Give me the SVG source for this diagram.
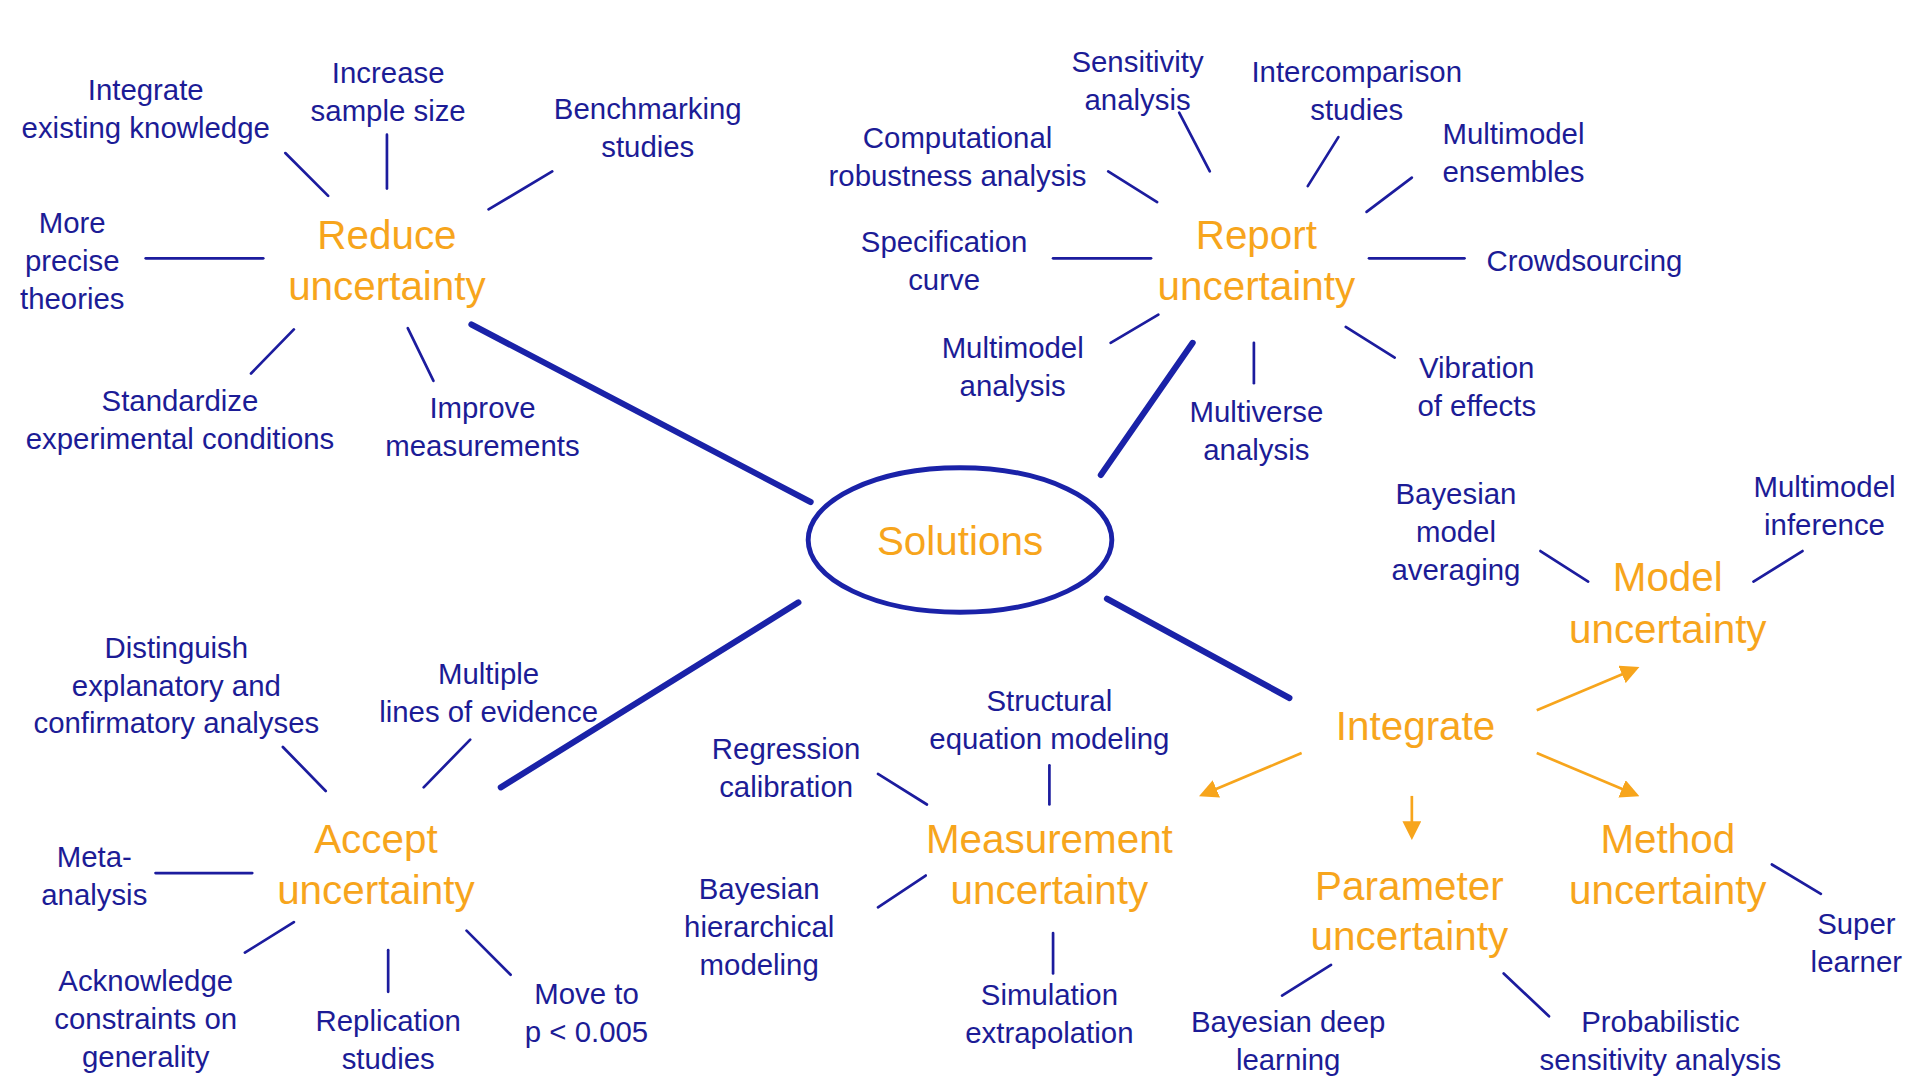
<svg xmlns="http://www.w3.org/2000/svg" width="1920" height="1080" viewBox="0 0 1920 1080">
<defs>
<style>
text{font-family:"Liberation Sans",Arial,sans-serif;text-anchor:middle}
.s{font-size:24px;fill:#1c1c96}
.o{font-size:33px;fill:#f7a51c}
.l line{stroke:#1c1c9e;stroke-width:2.2;stroke-linecap:round}
.t line{stroke:#1a22a8;stroke-width:5;stroke-linecap:round}
.a line{stroke:#f7a51c;stroke-width:2.2;marker-end:url(#ah)}
</style>
<marker id="ah" viewBox="0 0 10 10" refX="8" refY="5" markerWidth="7" markerHeight="7" orient="auto"><path d="M0,0L10,5L0,10z" fill="#f7a51c"/></marker>
</defs>
<rect width="1920" height="1080" fill="#fff"/>
<g transform="scale(1.2245)">
<g id="connectors">
<g class="l">
<line x1="233" y1="125" x2="268" y2="160"/><line x1="316" y1="110" x2="316" y2="154"/><line x1="451" y1="140" x2="399" y2="171"/><line x1="119" y1="211" x2="215" y2="211"/><line x1="240" y1="269" x2="205" y2="305"/><line x1="333" y1="268" x2="354" y2="311"/>
<line x1="963" y1="92" x2="988" y2="140"/><line x1="1093" y1="112" x2="1068" y2="152"/><line x1="905" y1="140" x2="945" y2="165"/><line x1="1153" y1="145" x2="1116" y2="173"/><line x1="860" y1="211" x2="940" y2="211"/><line x1="1118" y1="211" x2="1196" y2="211"/><line x1="907" y1="280" x2="946" y2="257"/><line x1="1024" y1="280" x2="1024" y2="313"/><line x1="1099" y1="267" x2="1139" y2="292"/>
<line x1="1258" y1="450" x2="1297" y2="475"/><line x1="1472" y1="450" x2="1432" y2="475"/>
<line x1="717" y1="632" x2="757" y2="657"/><line x1="857" y1="625" x2="857" y2="657"/><line x1="717" y1="741" x2="756" y2="715"/><line x1="860" y1="762" x2="860" y2="795"/>
<line x1="1087" y1="788" x2="1047" y2="813"/><line x1="1228" y1="795" x2="1265" y2="830"/>
<line x1="1447" y1="706" x2="1487" y2="730"/>
<line x1="231" y1="610" x2="266" y2="646"/><line x1="384" y1="604" x2="346" y2="643"/><line x1="127" y1="713" x2="206" y2="713"/><line x1="240" y1="753" x2="200" y2="778"/><line x1="317" y1="776" x2="317" y2="810"/><line x1="381" y1="760" x2="417" y2="796"/>
</g>
<g class="t">
<line x1="385" y1="265" x2="662" y2="410"/><line x1="974" y1="280" x2="899" y2="388"/><line x1="652" y1="492" x2="409" y2="643"/><line x1="904" y1="489" x2="1053" y2="570"/>
</g>
<g class="a">
<line x1="1063" y1="615" x2="982" y2="649"/><line x1="1255" y1="580" x2="1336" y2="546"/><line x1="1153" y1="650" x2="1153" y2="683"/><line x1="1255" y1="615" x2="1336" y2="649"/>
</g>
</g>
<g id="solutions"><ellipse cx="784" cy="441" rx="124" ry="59" fill="none" stroke="#1a22a8" stroke-width="4"/><text class="o" x="784" y="453">Solutions</text></g>
<g id="reduce"><text class="o" x="316" y="203">Reduce</text><text class="o" x="316" y="245">uncertainty</text></g>
<g id="n1"><text class="s" x="119" y="82">Integrate</text><text class="s" x="119" y="113">existing knowledge</text></g>
<g id="n2"><text class="s" x="317" y="68">Increase</text><text class="s" x="317" y="99">sample size</text></g>
<g id="n3"><text class="s" x="529" y="97">Benchmarking</text><text class="s" x="529" y="128">studies</text></g>
<g id="n4"><text class="s" x="59" y="190">More</text><text class="s" x="59" y="221">precise</text><text class="s" x="59" y="252">theories</text></g>
<g id="n5"><text class="s" x="147" y="336">Standardize</text><text class="s" x="147" y="367">experimental conditions</text></g>
<g id="n6"><text class="s" x="394" y="341">Improve</text><text class="s" x="394" y="372">measurements</text></g>
<g id="report"><text class="o" x="1026" y="203">Report</text><text class="o" x="1026" y="245">uncertainty</text></g>
<g id="n7"><text class="s" x="929" y="59">Sensitivity</text><text class="s" x="929" y="90">analysis</text></g>
<g id="n8"><text class="s" x="1108" y="67">Intercomparison</text><text class="s" x="1108" y="98">studies</text></g>
<g id="n9"><text class="s" x="782" y="121">Computational</text><text class="s" x="782" y="152">robustness analysis</text></g>
<g id="n10"><text class="s" x="1236" y="118">Multimodel</text><text class="s" x="1236" y="149">ensembles</text></g>
<g id="n11"><text class="s" x="771" y="206">Specification</text><text class="s" x="771" y="237">curve</text></g>
<g id="n12"><text class="s" x="1294" y="221">Crowdsourcing</text></g>
<g id="n13"><text class="s" x="827" y="292">Multimodel</text><text class="s" x="827" y="323">analysis</text></g>
<g id="n14"><text class="s" x="1026" y="345">Multiverse</text><text class="s" x="1026" y="376">analysis</text></g>
<g id="n15"><text class="s" x="1206" y="309">Vibration</text><text class="s" x="1206" y="340">of effects</text></g>
<g id="model"><text class="o" x="1362" y="483">Model</text><text class="o" x="1362" y="525">uncertainty</text></g>
<g id="n16"><text class="s" x="1189" y="412">Bayesian</text><text class="s" x="1189" y="443">model</text><text class="s" x="1189" y="474">averaging</text></g>
<g id="n17"><text class="s" x="1490" y="406">Multimodel</text><text class="s" x="1490" y="437">inference</text></g>
<g id="integrate"><text class="o" x="1156" y="604">Integrate</text></g>
<g id="measurement"><text class="o" x="857" y="697">Measurement</text><text class="o" x="857" y="738">uncertainty</text></g>
<g id="n18"><text class="s" x="642" y="620">Regression</text><text class="s" x="642" y="651">calibration</text></g>
<g id="n19"><text class="s" x="857" y="581">Structural</text><text class="s" x="857" y="612">equation modeling</text></g>
<g id="n20"><text class="s" x="620" y="734">Bayesian</text><text class="s" x="620" y="765">hierarchical</text><text class="s" x="620" y="796">modeling</text></g>
<g id="n21"><text class="s" x="857" y="821">Simulation</text><text class="s" x="857" y="852">extrapolation</text></g>
<g id="parameter"><text class="o" x="1151" y="735">Parameter</text><text class="o" x="1151" y="776">uncertainty</text></g>
<g id="n22"><text class="s" x="1052" y="843">Bayesian deep</text><text class="s" x="1052" y="874">learning</text></g>
<g id="n23"><text class="s" x="1356" y="843">Probabilistic</text><text class="s" x="1356" y="874">sensitivity analysis</text></g>
<g id="method"><text class="o" x="1362" y="697">Method</text><text class="o" x="1362" y="738">uncertainty</text></g>
<g id="n24"><text class="s" x="1516" y="763">Super</text><text class="s" x="1516" y="794">learner</text></g>
<g id="accept"><text class="o" x="307" y="697">Accept</text><text class="o" x="307" y="738">uncertainty</text></g>
<g id="n25"><text class="s" x="144" y="537">Distinguish</text><text class="s" x="144" y="568">explanatory and</text><text class="s" x="144" y="599">confirmatory analyses</text></g>
<g id="n26"><text class="s" x="399" y="559">Multiple</text><text class="s" x="399" y="590">lines of evidence</text></g>
<g id="n27"><text class="s" x="77" y="708">Meta-</text><text class="s" x="77" y="739">analysis</text></g>
<g id="n28"><text class="s" x="119" y="809">Acknowledge</text><text class="s" x="119" y="840">constraints on</text><text class="s" x="119" y="871">generality</text></g>
<g id="n29"><text class="s" x="317" y="842">Replication</text><text class="s" x="317" y="873">studies</text></g>
<g id="n30"><text class="s" x="479" y="820">Move to</text><text class="s" x="479" y="851">p &lt; 0.005</text></g>
</g>
</svg>
